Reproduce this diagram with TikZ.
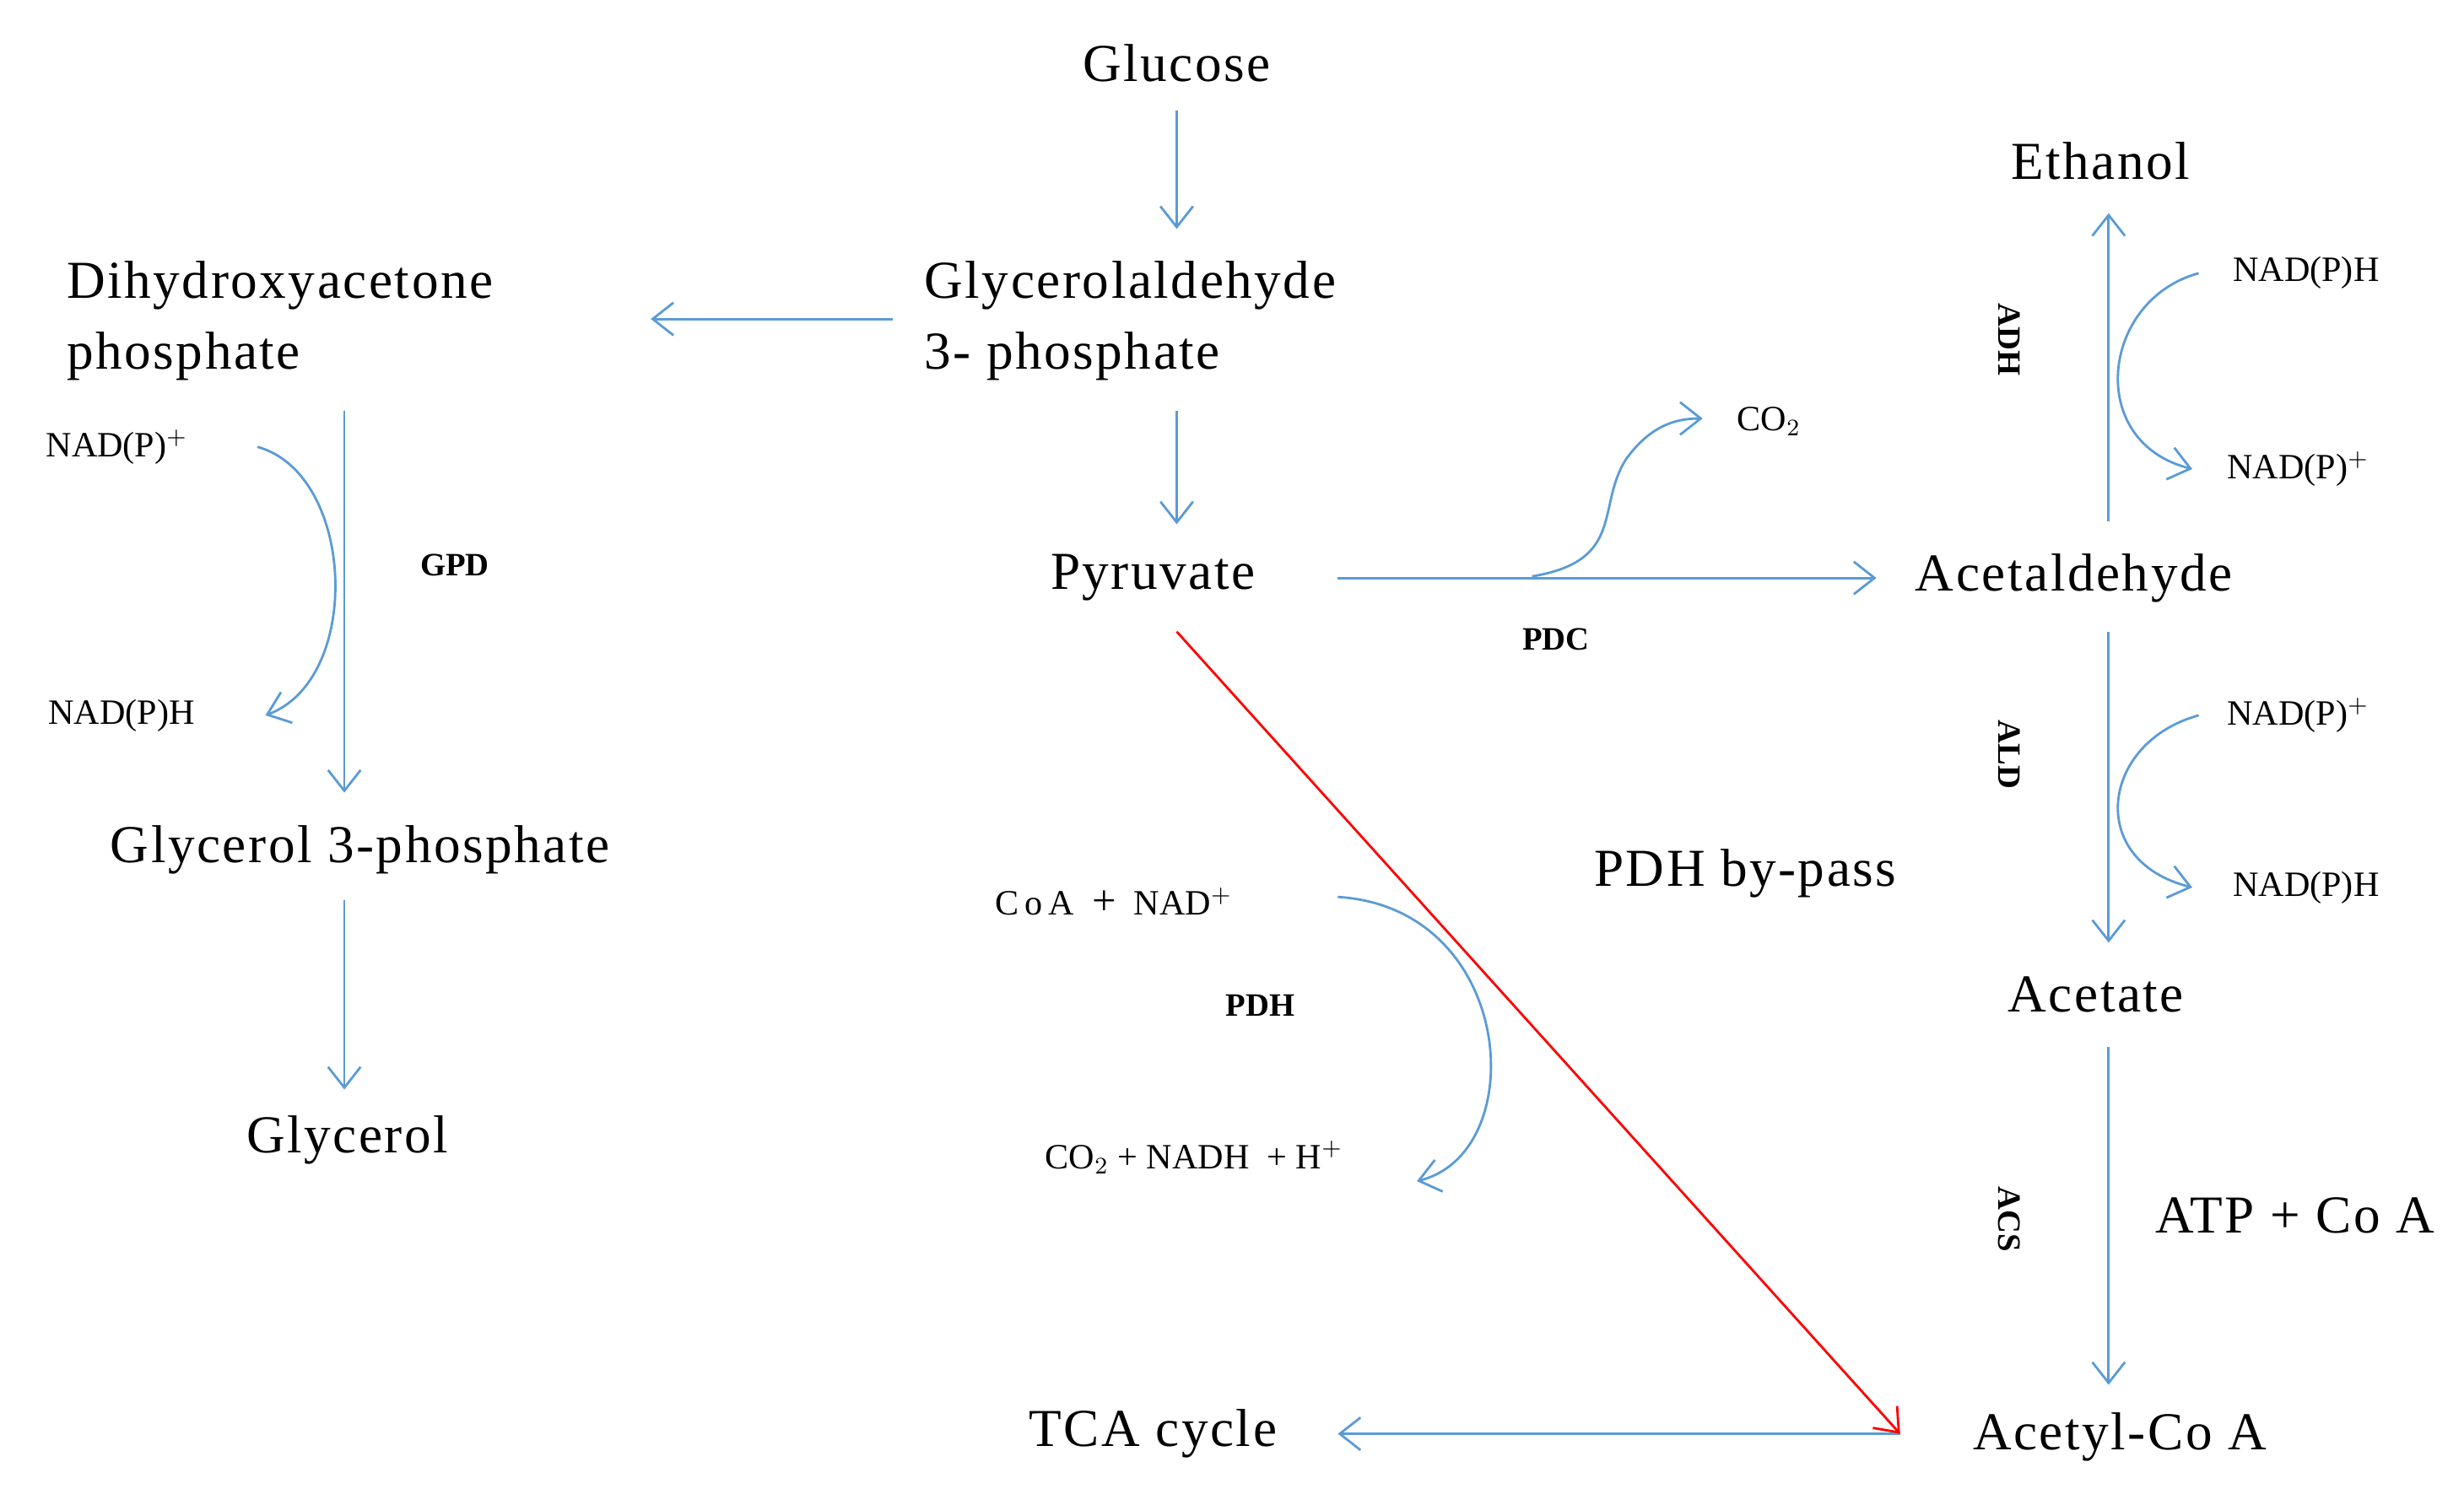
\documentclass[tikz,border=0pt]{standalone}
\usepackage{fontspec}
\setmainfont{Liberation Serif}
\usetikzlibrary{arrows.meta}
\definecolor{bl}{RGB}{91,155,213}
\begin{document}
\begin{tikzpicture}[x=0.018718cm,y=-0.018718cm,
 big/.style={font=\fontsize{18}{24}\selectfont\addfontfeatures{LetterSpace=4},inner sep=0},
 sm/.style={font=\fontsize{12}{14}\selectfont,inner sep=0},
 enz/.style={font=\fontsize{11}{12}\selectfont\bfseries,inner sep=0},
 ar/.style={draw=bl,line width=0.8pt,-{Straight Barb[length=7pt,width=11pt]}}]
\useasboundingbox (0,0) rectangle (1560,953);
\node[big] (glc) at (745,40) {Glucose};
\node[big,align=left,anchor=west] (g3p) at (585,203) {Glycerolaldehyde\\3- phosphate};
\node[big,align=left,anchor=west] (dhap) at (42,203) {Dihydroxyacetone\\phosphate};
\node[big] (pyr) at (730,366) {Pyruvate};
\node[big] (ald) at (1313,366) {Acetaldehyde};
\node[big] (eth) at (1330,102) {Ethanol};
\node[big] (ace) at (1327,630) {Acetate};
\node[big] (acoa) at (1342,910) {Acetyl-Co A};
\node[big] (tca) at (730,908) {TCA cycle};
\node[big] (gl3p) at (228,538) {Glycerol 3-phosphate};
\node[big] (glyc) at (220,722) {Glycerol};
\node[big] (byp) at (1105,553) {PDH by-pass};
\node[big] (atp) at (1453,770) {ATP + Co A};
\node[sm] (co2a) at (1120,267) {CO$_2$};
\node[sm] (n1) at (1460,173) {NAD(P)H};
\node[sm] (n2) at (1455,297) {NAD(P)$^+$};
\node[sm] (n3) at (1455,453) {NAD(P)$^+$};
\node[sm] (n4) at (1460,562) {NAD(P)H};
\node[sm] (n5) at (74,283) {NAD(P)$^+$};
\node[sm] (n6) at (77,453) {NAD(P)H};
\node[sm] (coa) at (705,571) {C\,o\,A \ {\Large+} \ NAD$^+$};
\node[sm] (co2b) at (756,733) {CO$_2$ + NADH \ + H$^+$};
\node[enz] at (985,405) {PDC};
\node[enz] at (798,637) {PDH};
\node[enz] at (288,358) {GPD};
\node[enz,rotate=-90] at (1272,215) {ADH};
\node[enz,rotate=-90] at (1272,478) {ALD};
\node[enz,rotate=-90] at (1272,772) {ACS};
\coordinate (a1) at (745,70); \coordinate (a2) at (745,145);
\coordinate (b1) at (565,202); \coordinate (b2) at (412,202);
\coordinate (c1) at (745,260); \coordinate (c2) at (745,332);
\coordinate (d1) at (847,366); \coordinate (d2) at (1188,366);
\coordinate (e1) at (1335,330); \coordinate (e2) at (1335,135);
\coordinate (f1) at (1335,400); \coordinate (f2) at (1335,597);
\coordinate (g1) at (1335,663); \coordinate (g2) at (1335,877);
\coordinate (h1) at (1203,908); \coordinate (h2) at (847,908);
\coordinate (r1) at (745,400); \coordinate (r2) at (1203,908);
\coordinate (i1) at (218,260); \coordinate (i2) at (218,502);
\coordinate (j1) at (218,570); \coordinate (j2) at (218,690);
\draw[ar] (a1)--(a2);
\draw[ar] (b1)--(b2);
\draw[ar] (c1)--(c2);
\draw[ar] (d1)--(d2);
\draw[ar] (e1)--(e2);
\draw[ar] (f1)--(f2);
\draw[ar] (g1)--(g2);
\draw[ar] (h1)--(h2);
\draw[ar] (i1)--(i2);
\draw[ar] (j1)--(j2);
\draw[ar,draw=red] (r1)--(r2);
\draw[ar] (970,365) .. controls (1030,355) and (1010,320) .. (1030,290) .. controls (1045,270) and (1060,265) .. (1078,265);
\draw[ar] (1392,173) .. controls (1330,190) and (1320,280) .. (1388,297);
\draw[ar] (1392,453) .. controls (1330,470) and (1320,545) .. (1388,562);
\draw[ar] (163,283) .. controls (225,300) and (230,430) .. (168,453);
\draw[ar] (847,568) .. controls (960,575) and (970,730) .. (897,748);
\end{tikzpicture}
\end{document}
